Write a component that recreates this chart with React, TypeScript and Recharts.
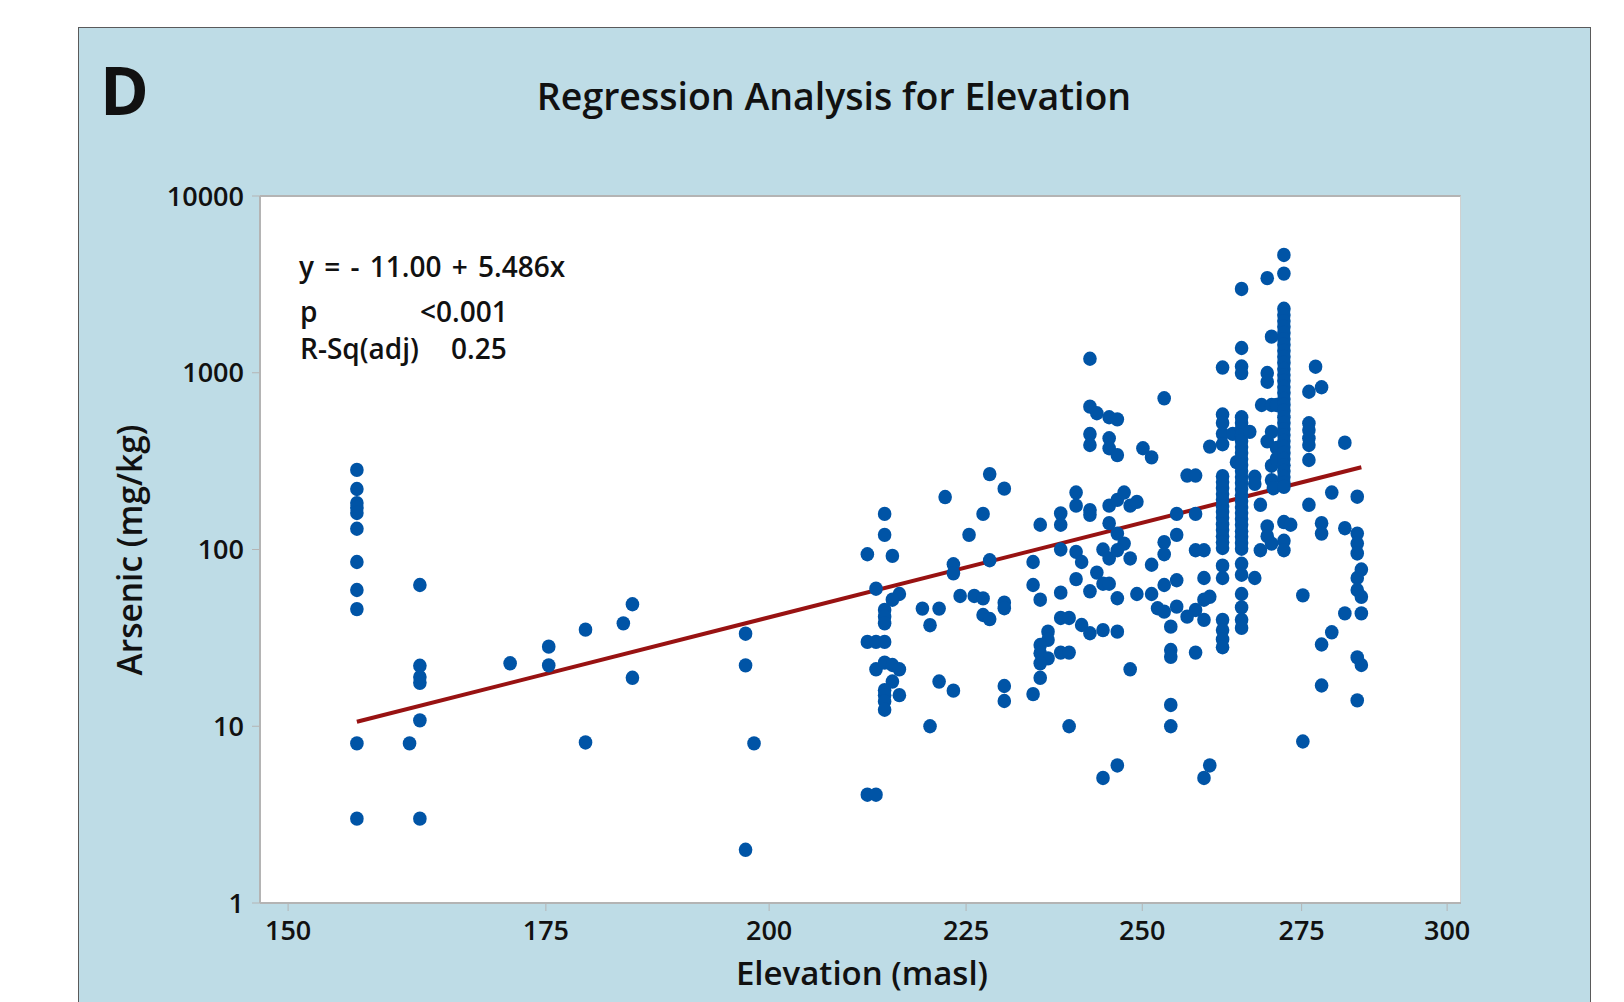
import { ScatterChart, Scatter, XAxis, YAxis } from 'recharts';

const FONT = "'Open Sans', 'Noto Sans', sans-serif";

const elevationTicks = [150, 175, 200, 225, 250, 275, 300];
const arsenicTicks = [1, 10, 100, 1000, 10000];

// [elevation (masl), arsenic (mg/kg)]
const lowSites: [number, number][] = [
  [156.3, 282], [156.3, 220], [156.3, 183], [156.3, 172], [156.3, 161], [156.3, 131],
  [156.3, 85], [156.3, 59], [156.3, 46], [156.3, 8.0], [156.3, 3.0],
  [161.3, 8.0],
  [162.3, 63], [162.3, 22], [162.3, 19], [162.3, 17.6], [162.3, 10.8], [162.3, 3.0],
  [171.3, 22.7], [175.3, 28.2], [175.3, 22.1], [179.2, 35.2], [179.2, 8.1],
  [183.3, 38.2], [184.3, 49], [184.3, 18.8],
  [197.2, 33.4], [197.2, 22.1], [197.2, 2.0], [198.2, 8.0],
];

const midSites: [number, number][] = [
  [212.1, 94], [213.2, 60], [214.3, 159], [214.3, 121], [215.3, 92], [216.2, 56], [215.3, 52],
  [214.3, 45.5], [214.3, 41.7], [214.3, 38.2], [212.1, 30], [213.2, 30], [214.3, 30],
  [213.2, 21], [214.3, 22.9], [215.3, 22.2], [216.2, 21], [215.3, 17.9], [214.3, 16],
  [214.3, 15], [214.3, 13.8], [214.3, 12.4], [216.2, 15], [212.1, 4.1], [213.2, 4.1],
  [219.2, 46.3], [221.4, 46.3], [220.2, 37.3], [221.4, 17.9], [223.3, 15.9], [220.2, 10],
  [222.2, 198], [223.3, 82.5], [223.3, 73.3], [224.2, 54.6], [225.4, 121], [226.1, 54.6],
  [227.3, 52.9], [227.3, 159], [228.2, 267], [230.2, 221], [228.2, 86.9], [227.3, 42.6],
  [228.2, 40.4], [230.2, 50], [230.2, 46.5], [230.2, 16.9], [230.2, 13.9],
];

const upperSites: [number, number][] = [
  [242.3, 1200], [242.3, 643], [243.3, 590], [245.1, 560], [246.3, 545],
  [242.3, 450], [242.3, 390], [245.1, 426], [245.1, 374], [246.3, 342],
  [253.3, 717], [250.1, 374], [251.4, 332], [260.3, 382], [256.8, 262], [258.1, 262],
  [240.3, 210], [240.3, 177], [242.3, 167], [242.3, 157], [245.1, 177], [246.3, 191],
  [247.3, 210], [248.2, 177], [249.2, 186], [238.1, 160], [238.1, 138], [235.2, 138],
  [245.1, 141], [246.3, 123], [247.3, 108], [255.2, 159], [258.1, 159], [255.2, 121],
  [253.3, 110], [253.3, 94], [251.4, 82], [238.1, 100], [240.3, 97], [241.1, 85],
  [234.2, 85], [244.2, 100], [245.1, 89], [246.3, 99], [248.2, 89], [258.1, 99], [259.4, 99],
  [234.2, 63], [235.2, 52], [238.1, 57], [240.3, 68], [242.3, 58], [243.3, 74], [244.2, 64],
  [245.1, 64], [246.3, 53], [249.2, 56], [251.4, 56], [253.3, 63], [255.2, 67],
  [252.3, 46.5], [253.3, 44.5], [255.2, 47.5], [259.4, 69], [260.3, 54], [259.4, 52],
  [258.1, 45.5], [256.8, 41.7], [259.4, 40], [238.1, 41], [239.3, 41],
  [241.1, 37.4], [242.3, 33.6], [244.2, 35], [246.3, 34.3],
  [236.3, 34.3], [236.3, 30.8], [235.2, 28.8], [235.2, 25.9], [236.3, 24.2], [235.2, 22.7],
  [235.2, 18.8], [234.2, 15.2], [238.1, 26.1], [239.3, 26.1], [248.2, 21], [254.3, 36.6],
  [254.3, 27], [254.3, 24.7], [258.1, 26.1], [239.3, 10], [254.3, 13.2], [254.3, 10],
  [246.3, 6], [244.2, 5.1], [260.3, 6], [259.4, 5.1],
];

const ridgeSites: [number, number][] = [
  [262.3, 1070], [262.3, 580], [262.3, 520], [262.3, 451], [262.3, 394],
  [262.3, 260], [262.3, 241], [262.3, 223], [262.3, 206], [262.3, 191], [262.3, 176],
  [262.3, 163], [262.3, 151], [262.3, 139], [262.3, 129], [262.3, 119], [262.3, 110],
  [262.3, 102], [262.3, 81], [262.3, 69], [262.3, 40], [262.3, 35], [262.3, 31], [262.3, 28],
  [263.9, 451], [264.5, 312],
  [265.3, 2980], [265.3, 1380], [265.3, 1085], [265.3, 996],
  [265.3, 560], [265.3, 520], [265.3, 481], [265.3, 444], [265.3, 411], [265.3, 380],
  [265.3, 352], [265.3, 325], [265.3, 301], [265.3, 278], [265.3, 257], [265.3, 238],
  [265.3, 220], [265.3, 203], [265.3, 188], [265.3, 174], [265.3, 161], [265.3, 149],
  [265.3, 138], [265.3, 127], [265.3, 118], [265.3, 109], [265.3, 101],
  [265.3, 83], [265.3, 72], [265.3, 56], [265.3, 47], [265.3, 40], [265.3, 36],
  [266.6, 463], [267.4, 258], [267.4, 235], [267.4, 69], [268.3, 179], [268.3, 99],
  [268.5, 657], [269.4, 3430], [269.4, 996], [269.4, 889], [269.4, 409], [269.4, 135],
  [269.4, 119], [270.1, 1600], [270.1, 657], [270.1, 463], [270.1, 298], [270.1, 247],
  [270.4, 222], [270.1, 108], [270.9, 657], [270.9, 376], [270.9, 326],
  [272.1, 4640], [272.1, 3640],
  [272.1, 2300], [272.1, 2120], [272.1, 1960], [272.1, 1820], [272.1, 1680], [272.1, 1550],
  [272.1, 1440], [272.1, 1330], [272.1, 1230], [272.1, 1140], [272.1, 1050], [272.1, 970],
  [272.1, 900], [272.1, 830], [272.1, 770], [272.1, 710], [272.1, 660], [272.1, 610],
  [272.1, 560], [272.1, 520], [272.1, 480], [272.1, 444], [272.1, 411], [272.1, 380],
  [272.1, 352], [272.1, 325], [272.1, 300], [272.1, 278], [272.1, 257], [272.1, 238],
  [272.1, 226], [272.1, 143], [272.1, 112], [272.1, 99], [273.2, 138],
  [275.2, 55], [275.2, 8.2],
  [276.2, 781], [276.2, 518], [276.2, 474], [276.2, 426], [276.2, 390], [276.2, 321], [276.2, 179],
  [277.3, 1082], [278.3, 828], [278.3, 141], [278.3, 123], [278.3, 29], [278.3, 17],
  [280.0, 210], [280.0, 34], [282.2, 402], [282.2, 132], [282.2, 43.5],
  [284.3, 199], [284.3, 123], [284.3, 108], [284.3, 95], [284.3, 69], [284.3, 59],
  [284.3, 24.5], [284.3, 14], [285.0, 77], [285.0, 54], [285.0, 43.5], [285.0, 22.2],
];

// fitted line end points
const fitLine: [number, number][] = [[156.3, 10.6], [285.0, 292]];

const toPoints = (rows: [number, number][]) => rows.map(([x, y]) => ({ x, y }));
const samples = toPoints([...lowSites, ...midSites, ...upperSites, ...ridgeSites]);

const Dot = (props: any) => <ellipse cx={props.cx} cy={props.cy} rx={6.8} ry={7.2} fill="#0054a6" />;

const tickStyle = { fontSize: 27, fontWeight: 600, fill: '#111', fontFamily: FONT };

export default function App() {
  return (
    <div style={{ position: 'absolute', left: 0, top: 0, width: 1624, height: 1002, overflow: 'hidden', background: '#fff' }}>
      <div style={{ position: 'absolute', left: 78, top: 27, width: 1513, height: 1000, background: '#bedce6', border: '1px solid #5a5a5a', boxSizing: 'border-box' }} />
      <div style={{ position: 'absolute', left: 260, top: 195, width: 1201, height: 708, background: '#fff', borderTop: '2px solid #b4b4b4', borderRight: '1px solid #d0d0d0', boxSizing: 'border-box' }} />
      <div style={{ position: 'absolute', left: 0, top: 0 }}>
        <ScatterChart width={1624} height={1002} margin={{ top: 196, right: 163, bottom: 39, left: 200 }}>
          <XAxis
            type="number"
            dataKey="x"
            scale="log"
            domain={[147.5, 302.5]}
            ticks={elevationTicks}
            allowDataOverflow
            height={60}
            tickSize={8}
            tickMargin={10}
            axisLine={{ stroke: '#b4b4b4', strokeWidth: 2 }}
            tickLine={{ stroke: '#b4b4b4' }}
            tick={tickStyle}
          />
          <YAxis
            type="number"
            dataKey="y"
            scale="log"
            domain={[1, 10000]}
            ticks={arsenicTicks}
            allowDataOverflow
            width={60}
            tickSize={8}
            tickMargin={8}
            axisLine={{ stroke: '#b4b4b4', strokeWidth: 2 }}
            tickLine={{ stroke: '#b4b4b4' }}
            tick={tickStyle}
          />
          <Scatter
            data={toPoints(fitLine)}
            line={{ stroke: '#981212', strokeWidth: 4 }}
            shape={() => <g />}
            isAnimationActive={false}
          />
          <Scatter data={samples} shape={Dot} isAnimationActive={false} />
        </ScatterChart>
      </div>
      <svg width={1624} height={1002} style={{ position: 'absolute', left: 0, top: 0, pointerEvents: 'none' }}>
        <g fontFamily={FONT} fill="#111">
          <text x={100} y={115} fontSize={66} fontWeight={700}>D</text>
          <text x={834} y={110} fontSize={37.5} fontWeight={600} textAnchor="middle">Regression Analysis for Elevation</text>
          <text x={299} y={277} fontSize={28} fontWeight={600} wordSpacing={3}>y = - 11.00 + 5.486x</text>
          <text x={300} y={322} fontSize={28} fontWeight={600}>p</text>
          <text x={420} y={322} fontSize={28} fontWeight={600}>&lt;0.001</text>
          <text x={300} y={359} fontSize={28} fontWeight={600}>R-Sq(adj)</text>
          <text x={451} y={359} fontSize={28} fontWeight={600}>0.25</text>
          <text x={862} y={985} fontSize={33} fontWeight={600} textAnchor="middle">Elevation (masl)</text>
          <text transform="translate(142 550) rotate(-90)" fontSize={33.5} fontWeight={600} textAnchor="middle">Arsenic (mg/kg)</text>
        </g>
      </svg>
    </div>
  );
}
